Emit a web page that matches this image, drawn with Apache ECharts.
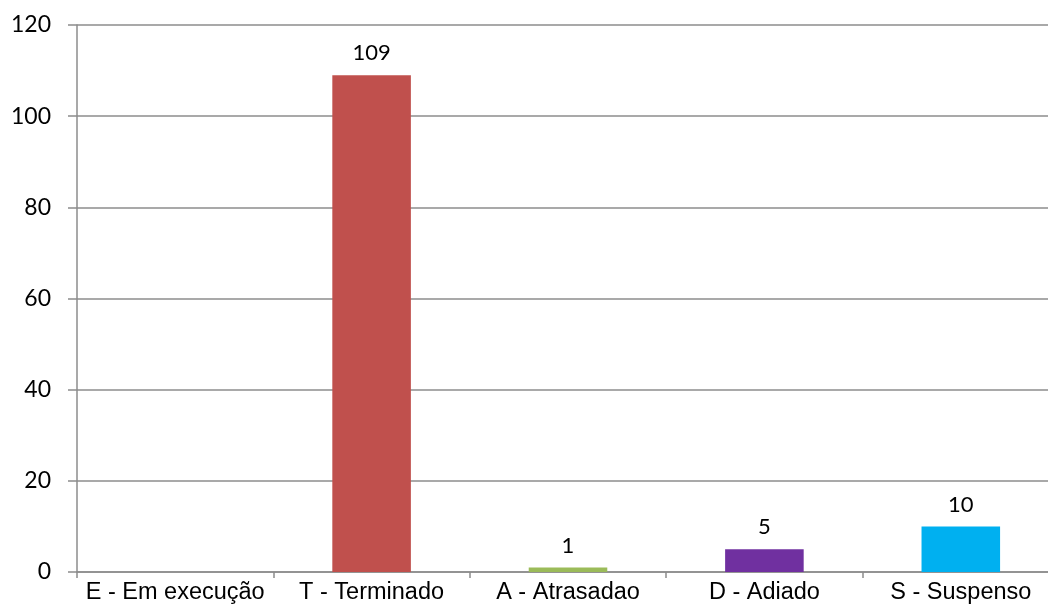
<!DOCTYPE html>
<html><head><meta charset="utf-8">
<script src="https://cdn.jsdelivr.net/npm/echarts@6/dist/echarts.min.js"></script>
<style>html,body{margin:0;padding:0;background:#fff;overflow:hidden;width:1048px;height:612px}#c{width:1059px;height:612px}</style>
</head><body><div id="c"></div>
<script>
const categories = ['E - Em execução', 'T - Terminado', 'A - Atrasadao', 'D - Adiado', 'S - Suspenso'];
const values = [0, 109, 1, 5, 10];
const yTicks = [0, 20, 40, 60, 80, 100, 120];
const barColors = ['#4F81BD', '#C0504D', '#9BBB59', '#7030A0', '#00B0F0'];

const chart = echarts.init(document.getElementById('c'));
chart.setOption({
  animation: false,
  backgroundColor: '#fff',
  grid: { left: 77, right: 0, top: 25, bottom: 40, containLabel: false },
  xAxis: {
    type: 'category',
    data: categories,
    axisLine: { lineStyle: { color: '#8c8c8c', width: 1.5 } },
    axisTick: { show: true, length: 6, lineStyle: { color: '#8c8c8c', width: 1.5 } },
    axisLabel: { color: '#000', fontFamily: 'Liberation Sans', fontSize: 23.5, margin: 9, interval: 0 }
  },
  yAxis: {
    type: 'value',
    min: yTicks[0], max: yTicks[yTicks.length - 1], interval: 20,
    axisLine: { show: true, lineStyle: { color: '#8c8c8c', width: 1.5 } },
    axisTick: { show: true, length: 9, lineStyle: { color: '#8c8c8c', width: 1.5 } },
    splitLine: { lineStyle: { color: '#8c8c8c', width: 1.5 } },
    axisLabel: { color: '#000', fontFamily: 'Lato', fontSize: 23, margin: 26 }
  },
  series: [{
    type: 'bar',
    barWidth: '40%',
    data: values.map((v, i) => ({ value: v, itemStyle: { color: barColors[i] } })),
    label: {
      show: true, position: 'top', distance: 11,
      color: '#000', fontFamily: 'Lato', fontSize: 22,
      formatter: p => p.value === 0 ? '' : String(p.value)
    }
  }]
});
</script></body></html>
